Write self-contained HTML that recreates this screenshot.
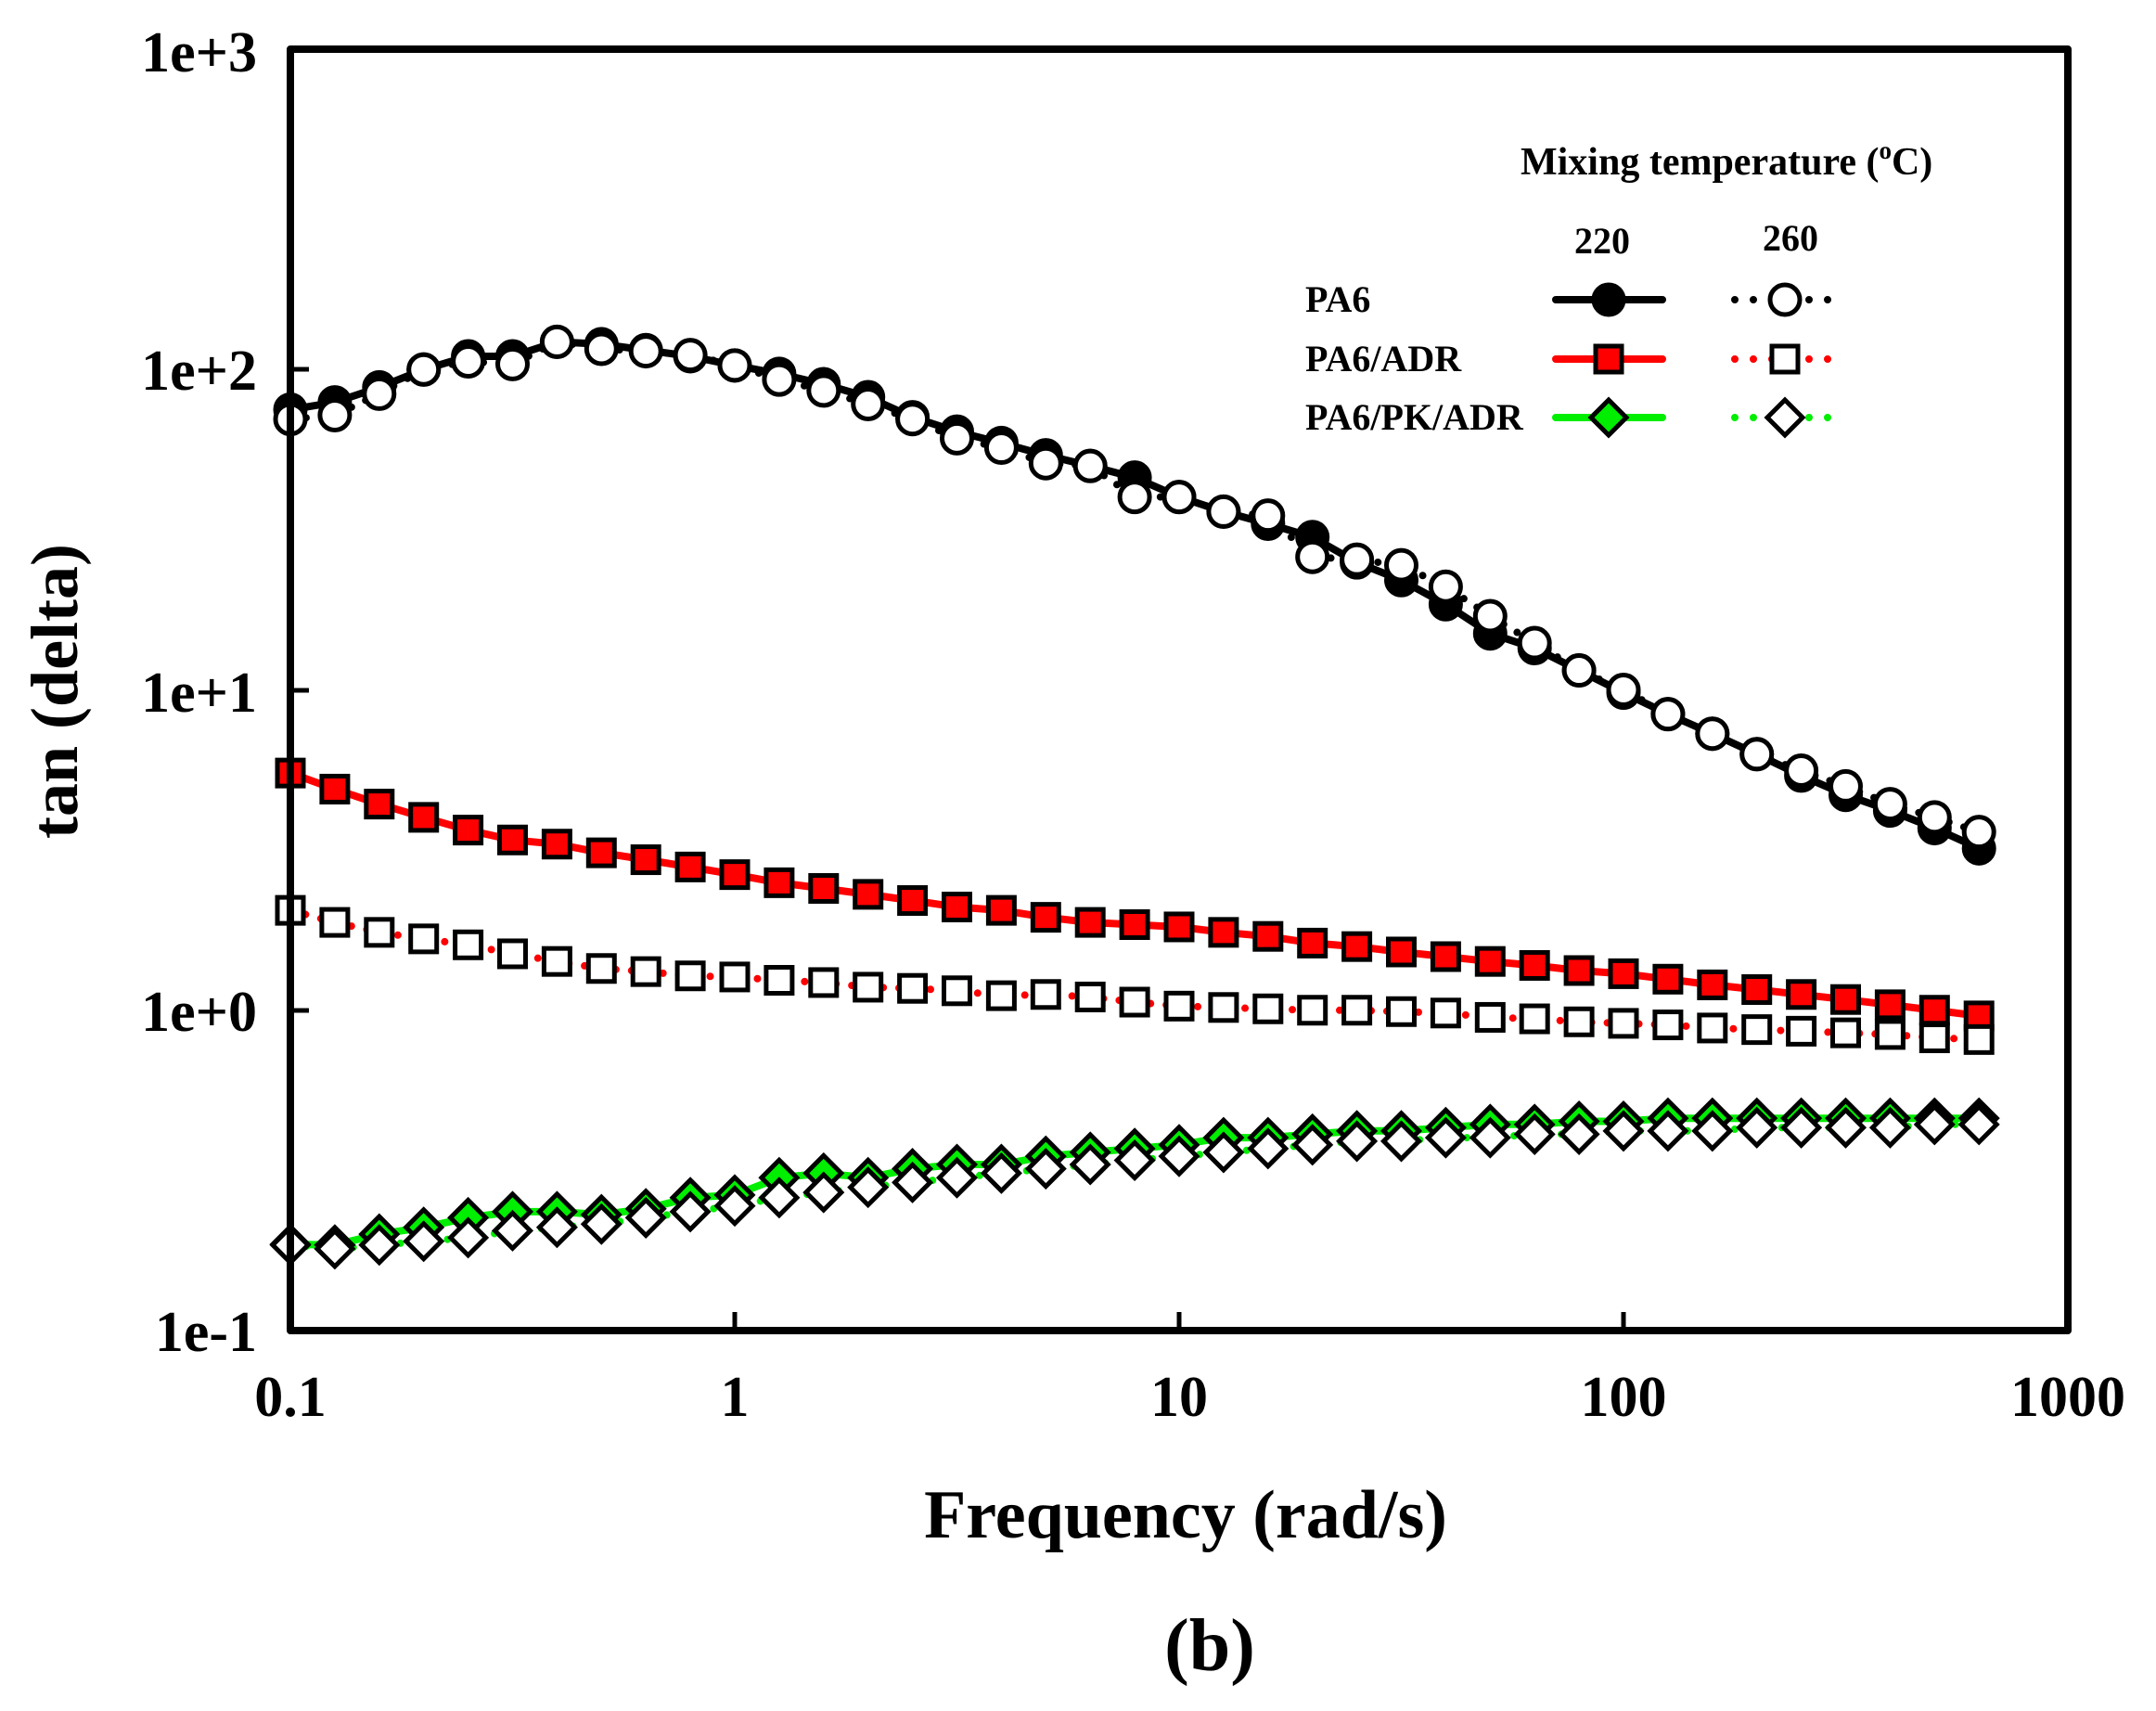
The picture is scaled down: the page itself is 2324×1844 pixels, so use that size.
<!DOCTYPE html>
<html><head><meta charset="utf-8"><style>
html,body{margin:0;padding:0;background:#fff;}
svg{display:block;}
text{font-family:"Liberation Serif",serif;font-weight:bold;fill:#000;}
</style></head><body>
<svg id="s" width="2324" height="1844" viewBox="0 0 2324 1844" xmlns="http://www.w3.org/2000/svg">
<rect width="2324" height="1844" fill="#fff"/>
<g id="data"></g>
<rect x="313" y="53" width="1916" height="1381" fill="none" stroke="#000" stroke-width="8" stroke-linejoin="round"/>
<g stroke="#000" stroke-width="5">
<line x1="792" y1="1434" x2="792" y2="1414"/>
<line x1="1271" y1="1434" x2="1271" y2="1414"/>
<line x1="1750" y1="1434" x2="1750" y2="1414"/>
<line x1="313" y1="398" x2="333" y2="398"/>
<line x1="313" y1="744" x2="333" y2="744"/>
<line x1="313" y1="1089" x2="333" y2="1089"/>
</g>
<g font-size="62" text-anchor="end">
<text x="277" y="77">1e+3</text>
<text x="277" y="420">1e+2</text>
<text x="277" y="767">1e+1</text>
<text x="277" y="1111">1e+0</text>
<text x="277" y="1456">1e-1</text>
</g>
<g font-size="62" text-anchor="middle">
<text x="313" y="1526">0.1</text>
<text x="792" y="1526">1</text>
<text x="1271" y="1526">10</text>
<text x="1750" y="1526">100</text>
<text x="2229" y="1526">1000</text>
</g>
<text x="1278" y="1657" font-size="74" text-anchor="middle">Frequency (rad/s)</text>
<text x="1304" y="1800" font-size="80" text-anchor="middle">(b)</text>
<text transform="translate(83,745) rotate(-90)" font-size="72" text-anchor="middle">tan (delta)</text>
<text x="1639" y="188" font-size="42">Mixing temperature (<tspan font-size="27" dy="-17">o</tspan><tspan dy="17">C)</tspan></text>
<text x="1727" y="273" font-size="40" text-anchor="middle">220</text>
<text x="1930" y="270" font-size="40" text-anchor="middle">260</text>
<text x="1407" y="336" font-size="40">PA6</text>
<text x="1407" y="400" font-size="40">PA6/ADR</text>
<text x="1407" y="463" font-size="40">PA6/PK/ADR</text>
<g id="leg"></g>
</svg>
<script>
var NS="http://www.w3.org/2000/svg";
function el(p,n,a){var e=document.createElementNS(NS,n);for(var k in a)e.setAttribute(k,a[k]);p.appendChild(e);return e;}
function X(i){return 313+(i/10)*479;}
function Y(v){return 1434-(Math.log10(v)+1)*345.25;}
var pa6f=[75,79,88,100,110,110,122,120,115,110,103,97,90,82,71,64,59,54,50,46,40,36,33,30,25,22,18.5,15,13.5,11.5,9.8,8.4,7.3,6.3,5.4,4.7,4.2,3.7,3.2];
var pa6o=[70,72,84,100,106,104,122,116,114,111,103,93,86,78,70,61,57,51,50,40,40,36,35,26,25.5,24.5,21,17,14,11.5,10,8.4,7.3,6.3,5.6,5.0,4.4,4.0,3.6];
var adrf=[5.5,4.9,4.4,4.0,3.65,3.4,3.3,3.1,2.95,2.8,2.65,2.5,2.4,2.3,2.2,2.1,2.05,1.95,1.88,1.85,1.82,1.75,1.7,1.62,1.58,1.52,1.47,1.42,1.38,1.33,1.3,1.25,1.2,1.16,1.12,1.08,1.04,1.0,0.96];
var adro=[2.05,1.88,1.75,1.67,1.6,1.5,1.42,1.35,1.32,1.28,1.27,1.24,1.22,1.18,1.17,1.15,1.11,1.12,1.1,1.06,1.03,1.02,1.01,1.0,1.0,0.99,0.98,0.95,0.94,0.92,0.91,0.9,0.88,0.87,0.86,0.85,0.84,0.82,0.81];
var pkf=[0.186,0.185,0.2,0.21,0.225,0.235,0.235,0.23,0.24,0.26,0.265,0.3,0.31,0.3,0.32,0.33,0.33,0.35,0.36,0.37,0.38,0.4,0.4,0.41,0.42,0.42,0.43,0.44,0.44,0.45,0.45,0.46,0.46,0.46,0.46,0.46,0.46,0.46,0.46];
var pko=[0.185,0.18,0.185,0.19,0.195,0.205,0.21,0.215,0.225,0.235,0.245,0.26,0.27,0.28,0.29,0.3,0.31,0.32,0.33,0.34,0.35,0.36,0.37,0.38,0.39,0.39,0.4,0.4,0.41,0.41,0.42,0.42,0.42,0.43,0.43,0.43,0.43,0.44,0.44];
var g=document.getElementById("data");
function line(d,col,dotted){var pts=d.map(function(v,i){return X(i).toFixed(1)+","+Y(v).toFixed(1);}).join(" ");
 var a={points:pts,fill:"none",stroke:col,"stroke-width":8,"stroke-linecap":"round","stroke-linejoin":"round"};
 if(dotted)a["stroke-dasharray"]="0 17";el(g,"polyline",a);}
function mark(p,type,x,y,fill){
 if(type=="c")el(p,"circle",{cx:x,cy:y,r:16,fill:fill,stroke:"#000","stroke-width":5});
 else if(type=="s")el(p,"rect",{x:x-14,y:y-14,width:28,height:28,fill:fill,stroke:"#000","stroke-width":5});
 else el(p,"polygon",{points:(x)+","+(y-19)+" "+(x+19)+","+y+" "+x+","+(y+19)+" "+(x-19)+","+y,fill:fill,stroke:"#000","stroke-width":5,"stroke-linejoin":"miter"});}
function marks(d,type,fill){d.forEach(function(v,i){mark(g,type,X(i),Y(v),fill);});}
line(pkf,"#00ee00",false);line(pko,"#00ee00",true);
line(adrf,"#ff0000",false);line(adro,"#ff0000",true);
line(pa6f,"#000",false);line(pa6o,"#000",true);
marks(pkf,"d","#00ee00");marks(pko,"d","#fff");
marks(adrf,"s","#ff0000");marks(adro,"s","#fff");
marks(pa6f,"c","#000");marks(pa6o,"c","#fff");
var L=document.getElementById("leg");
var rows=[[323,"#000","c","#000"],[387,"#ff0000","s","#ff0000"],[450,"#00ee00","d","#00ee00"]];
rows.forEach(function(r){
 el(L,"line",{x1:1677,y1:r[0],x2:1792,y2:r[0],stroke:r[1],"stroke-width":8,"stroke-linecap":"round"});
 mark(L,r[2],1734,r[0],r[3]);
 el(L,"line",{x1:1870,y1:r[0],x2:1972,y2:r[0],stroke:r[1],"stroke-width":8,"stroke-linecap":"round","stroke-dasharray":"0 20"});
 mark(L,r[2],1924,r[0],"#fff");
});
</script>
</body></html>
